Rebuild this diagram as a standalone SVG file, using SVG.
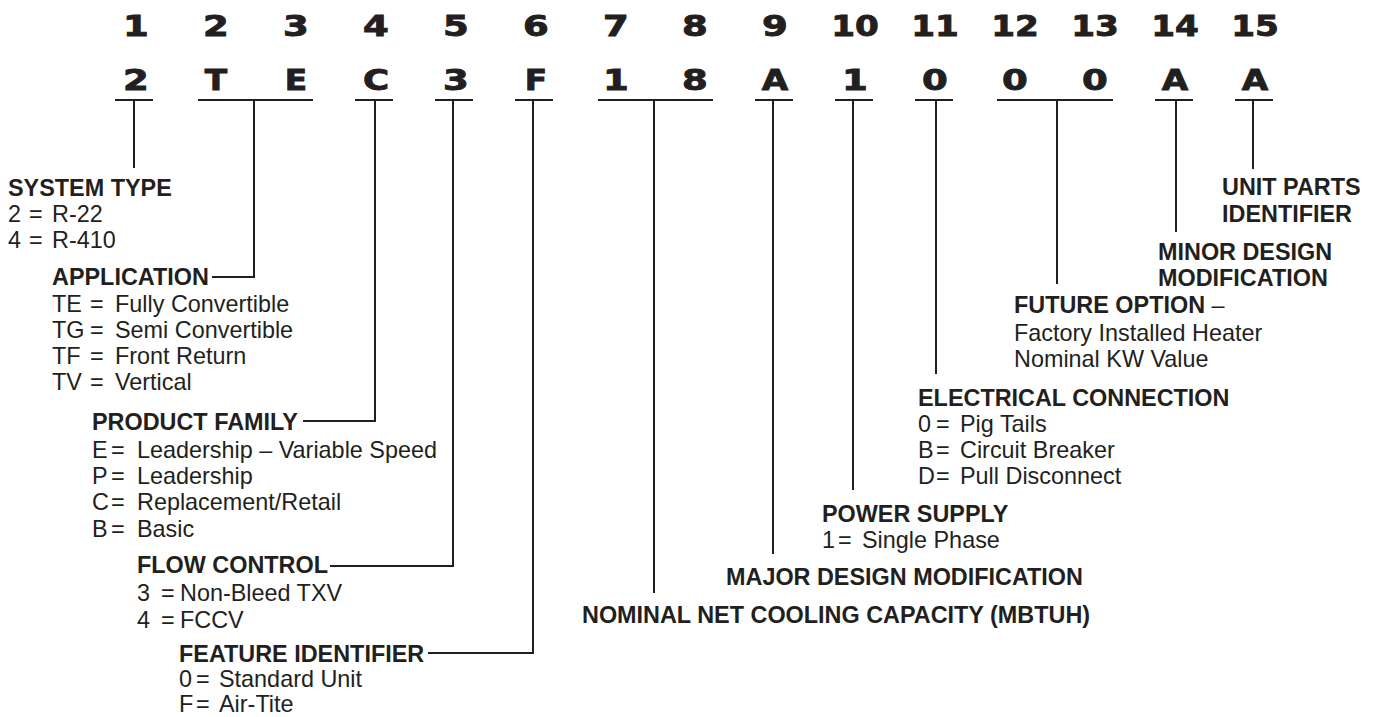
<svg xmlns="http://www.w3.org/2000/svg" width="1373" height="717" viewBox="0 0 1373 717">
<style>
.pos{font-family:"DejaVu Sans",sans-serif;font-weight:bold;font-size:28.5px;fill:#231f20;stroke:#231f20;stroke-width:0.9;text-anchor:middle}
.h{font-family:"Liberation Sans",Arial,sans-serif;font-weight:bold;font-size:23.4px;fill:#231f20}
.t{font-family:"Liberation Sans",Arial,sans-serif;font-size:23.4px;fill:#231f20}
.ln{stroke:#231f20;stroke-width:2;fill:none}
</style>
<rect width="1373" height="717" fill="#fff"/>
<g id="code">
<g id="positions">
<text class="pos" transform="translate(136,36) scale(1.3,1)">1</text>
<text class="pos" transform="translate(216,36) scale(1.3,1)">2</text>
<text class="pos" transform="translate(296,36) scale(1.3,1)">3</text>
<text class="pos" transform="translate(376,36) scale(1.3,1)">4</text>
<text class="pos" transform="translate(456,36) scale(1.3,1)">5</text>
<text class="pos" transform="translate(536,36) scale(1.3,1)">6</text>
<text class="pos" transform="translate(616,36) scale(1.3,1)">7</text>
<text class="pos" transform="translate(695,36) scale(1.3,1)">8</text>
<text class="pos" transform="translate(775,36) scale(1.3,1)">9</text>
<text class="pos" transform="translate(855,36) scale(1.2,1)">10</text>
<text class="pos" transform="translate(935,36) scale(1.2,1)">11</text>
<text class="pos" transform="translate(1015,36) scale(1.2,1)">12</text>
<text class="pos" transform="translate(1095,36) scale(1.2,1)">13</text>
<text class="pos" transform="translate(1175,36) scale(1.2,1)">14</text>
<text class="pos" transform="translate(1255,36) scale(1.2,1)">15</text>
</g>
<g id="chars">
<text class="pos" transform="translate(136,90) scale(1.3,1)">2</text>
<text class="pos" transform="translate(216,90) scale(1.15,1)">T</text>
<text class="pos" transform="translate(296,90) scale(1.15,1)">E</text>
<text class="pos" transform="translate(376,90) scale(1.25,1)">C</text>
<text class="pos" transform="translate(456,90) scale(1.3,1)">3</text>
<text class="pos" transform="translate(536,90) scale(1.15,1)">F</text>
<text class="pos" transform="translate(616,90) scale(1.3,1)">1</text>
<text class="pos" transform="translate(695,90) scale(1.3,1)">8</text>
<text class="pos" transform="translate(775,90) scale(1.2,1)">A</text>
<text class="pos" transform="translate(855,90) scale(1.3,1)">1</text>
<text class="pos" transform="translate(935,90) scale(1.3,1)">0</text>
<text class="pos" transform="translate(1015,90) scale(1.3,1)">0</text>
<text class="pos" transform="translate(1095,90) scale(1.3,1)">0</text>
<text class="pos" transform="translate(1175,90) scale(1.2,1)">A</text>
<text class="pos" transform="translate(1255,90) scale(1.2,1)">A</text>
</g>
</g>
<g id="connectors" class="ln">
<path d="M115,100H153M198,100H313M355,100H393M435,100H473M515,100H553M598,100H713M755,100H793M835,100H873M915,100H953M997,100H1113M1155,100H1193M1235,100H1273"/>
<path d="M134,100V168"/>
<path d="M254,100V277H212"/>
<path d="M375,100V421H303"/>
<path d="M453,100V566H330"/>
<path d="M533,100V653H428"/>
<path d="M654,100V593"/>
<path d="M773,100V554"/>
<path d="M853,100V490"/>
<path d="M936,100V374"/>
<path d="M1057,100V284"/>
<path d="M1176,100V232"/>
<path d="M1253,100V169"/>
</g>
<g id="system-type">
<text class="h" x="8" y="196">SYSTEM TYPE</text>
<text class="t" y="222"><tspan x="8">2</tspan><tspan x="29">=</tspan><tspan x="52">R-22</tspan></text>
<text class="t" y="248"><tspan x="8">4</tspan><tspan x="29">=</tspan><tspan x="52">R-410</tspan></text>
</g>
<g id="application">
<text class="h" x="52" y="285">APPLICATION</text>
<text class="t" y="312"><tspan x="52">TE</tspan><tspan x="90">=</tspan><tspan x="115">Fully Convertible</tspan></text>
<text class="t" y="338"><tspan x="52">TG</tspan><tspan x="90">=</tspan><tspan x="115">Semi Convertible</tspan></text>
<text class="t" y="364"><tspan x="52">TF</tspan><tspan x="90">=</tspan><tspan x="115">Front Return</tspan></text>
<text class="t" y="390"><tspan x="52">TV</tspan><tspan x="90">=</tspan><tspan x="115">Vertical</tspan></text>
</g>
<g id="product-family">
<text class="h" x="92" y="430">PRODUCT FAMILY</text>
<text class="t" y="458"><tspan x="92">E</tspan><tspan x="111">=</tspan><tspan x="137">Leadership – Variable Speed</tspan></text>
<text class="t" y="484"><tspan x="92">P</tspan><tspan x="111">=</tspan><tspan x="137">Leadership</tspan></text>
<text class="t" y="510"><tspan x="92">C</tspan><tspan x="111">=</tspan><tspan x="137">Replacement/Retail</tspan></text>
<text class="t" y="537"><tspan x="92">B</tspan><tspan x="111">=</tspan><tspan x="137">Basic</tspan></text>
</g>
<g id="flow-control">
<text class="h" x="137" y="573">FLOW CONTROL</text>
<text class="t" y="601"><tspan x="137">3</tspan><tspan x="161">=</tspan><tspan x="180">Non-Bleed TXV</tspan></text>
<text class="t" y="628"><tspan x="137">4</tspan><tspan x="161">=</tspan><tspan x="180">FCCV</tspan></text>
</g>
<g id="feature-identifier">
<text class="h" x="179" y="662">FEATURE IDENTIFIER</text>
<text class="t" y="687"><tspan x="179">0</tspan><tspan x="196">=</tspan><tspan x="219">Standard Unit</tspan></text>
<text class="t" y="712"><tspan x="179">F</tspan><tspan x="196">=</tspan><tspan x="219">Air-Tite</tspan></text>
</g>
<g id="nominal-capacity">
<text class="h" x="582" y="623">NOMINAL NET COOLING CAPACITY (MBTUH)</text>
</g>
<g id="major-design">
<text class="h" x="726" y="585">MAJOR DESIGN MODIFICATION</text>
</g>
<g id="power-supply">
<text class="h" x="822" y="522">POWER SUPPLY</text>
<text class="t" y="548"><tspan x="822">1</tspan><tspan x="838">=</tspan><tspan x="862">Single Phase</tspan></text>
</g>
<g id="electrical-connection">
<text class="h" x="918" y="406">ELECTRICAL CONNECTION</text>
<text class="t" y="432"><tspan x="918">0</tspan><tspan x="936">=</tspan><tspan x="960">Pig Tails</tspan></text>
<text class="t" y="458"><tspan x="918">B</tspan><tspan x="936">=</tspan><tspan x="960">Circuit Breaker</tspan></text>
<text class="t" y="484"><tspan x="918">D</tspan><tspan x="936">=</tspan><tspan x="960">Pull Disconnect</tspan></text>
</g>
<g id="future-option">
<text class="h" x="1014" y="313">FUTURE OPTION<tspan font-weight="normal"> –</tspan></text>
<text class="t" x="1014" y="341">Factory Installed Heater</text>
<text class="t" x="1014" y="367">Nominal KW Value</text>
</g>
<g id="minor-design">
<text class="h" x="1158" y="260">MINOR DESIGN</text>
<text class="h" x="1158" y="286">MODIFICATION</text>
</g>
<g id="unit-parts">
<text class="h" x="1222" y="195">UNIT PARTS</text>
<text class="h" x="1222" y="222">IDENTIFIER</text>
</g>
</svg>
